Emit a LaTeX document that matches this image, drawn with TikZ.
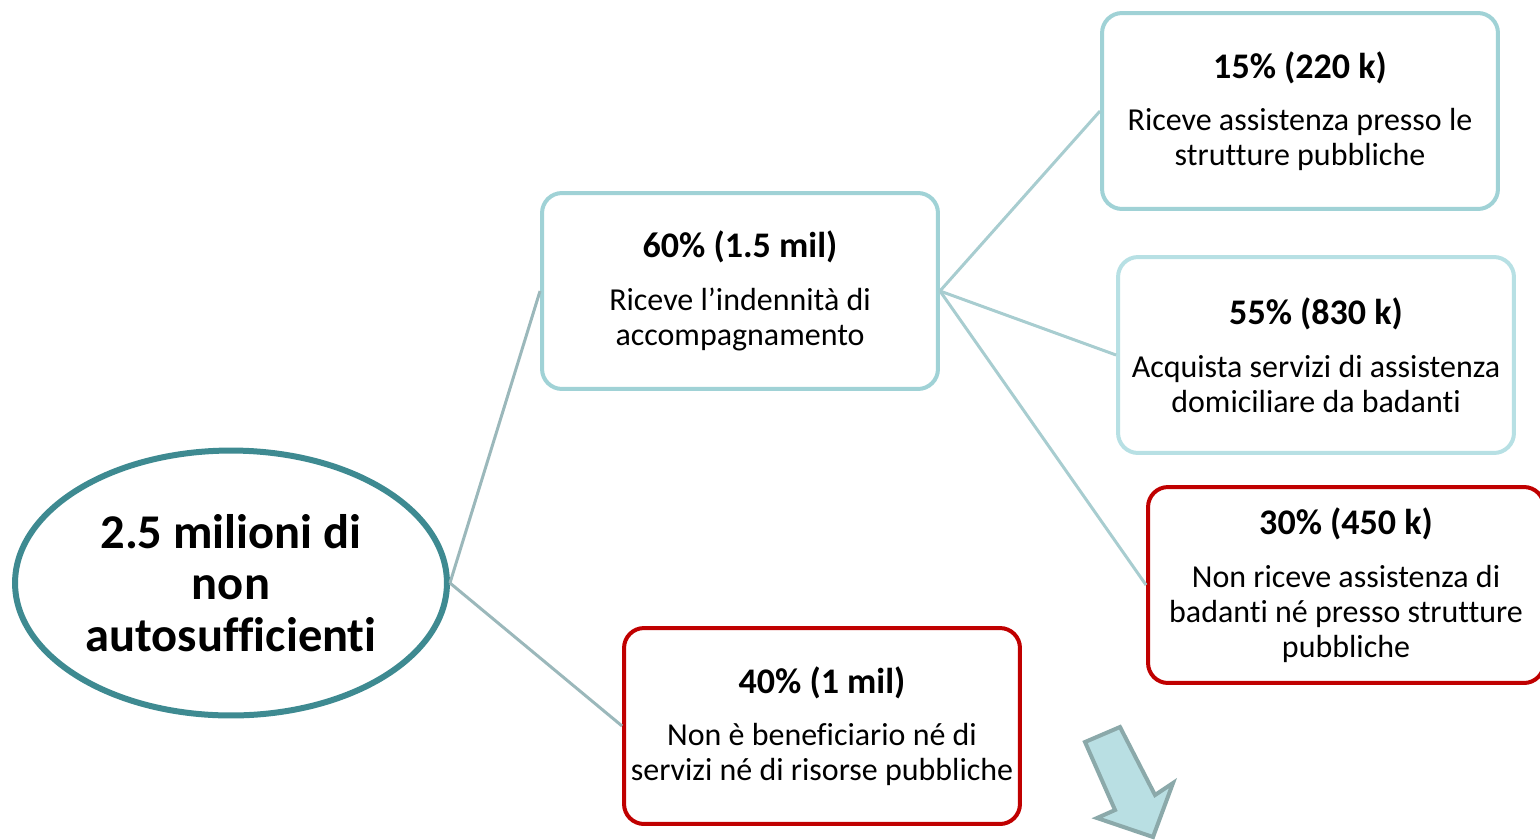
\documentclass[tikz,border=0pt]{standalone}
\usepackage{fontspec}
\setmainfont{Carlito}[Ligatures={NoCommon}]
\definecolor{darkteal}{RGB}{62, 138, 145}
\definecolor{paleteal}{RGB}{160, 210, 214}
\definecolor{paleteallt}{RGB}{183, 224, 228}
\definecolor{linkgray}{RGB}{155, 184, 187}
\definecolor{linkteal}{RGB}{168, 205, 208}
\definecolor{alertred}{RGB}{192, 0, 0}
\definecolor{arrowfill}{RGB}{185, 223, 227}
\definecolor{arrowedge}{RGB}{139, 169, 170}
\usetikzlibrary{shapes.geometric}
\newcommand{\bodyfont}{\fontsize{18.2}{19.9}\selectfont}
\newcommand{\boxhead}[1]{{\bfseries\fontsize{20.5}{20.5}\selectfont #1}\\[10pt]}

\begin{document}
\begin{tikzpicture}[x=0.02cm, y=-0.02cm,
    box/.style={draw=paleteal, line width=0.08cm, fill=white, rounded corners=0.4cm,
                minimum width=7.92cm, minimum height=3.92cm, inner sep=0pt,
                align=center, font=\bodyfont},
    redbox/.style={box, draw=alertred},
    root/.style={ellipse, draw=darkteal, line width=0.12cm, fill=white,
                 minimum width=8.64cm, minimum height=5.3cm, inner sep=0pt,
                 align=center, font=\bfseries\fontsize{27.6}{29.3}\selectfont},
    link/.style={line width=0.06cm, color=linkteal},
  ]
    \useasboundingbox (0,0) rectangle (1540,839);

    %% root and first split
    \node[root] (tot) at (231,583) {2.5 milioni di\\non\\autosufficienti};

    \node[box] (b60) at (740,291)
      {\boxhead{60\% (1.5 mil)}Riceve l’indennità di\\accompagnamento};
    \node[redbox] (b40) at (822,726)
      {\boxhead{40\% (1 mil)}Non è beneficiario né di\\servizi né di risorse pubbliche};

    %% second split
    \node[box] (b15) at (1300,111)
      {\boxhead{15\% (220 k)}Riceve assistenza presso le\\strutture pubbliche};
    \node[box, draw=paleteallt] (b55) at (1316,355)
      {\boxhead{55\% (830 k)}Acquista servizi di assistenza\\domiciliare da badanti};
    \node[redbox] (b30) at (1346,585)
      {\boxhead{30\% (450 k)}Non riceve assistenza di\\badanti né presso strutture\\pubbliche};

    \draw[link, color=linkgray] (tot.east) -- (b60.west);
    \draw[link, color=linkgray] (tot.east) -- (b40.west);
    \draw[link] (b60.east) -- (b15.west);
    \draw[link] (b60.east) -- (b55.west);
    \draw[link] (b60.east) -- (b30.west);

    % block arrow at the bottom
    \draw[line width=0.08cm, draw=arrowedge, fill=arrowfill, line join=miter]
      (1085,742) -- (1120,727) -- (1155,795) -- (1173,783) -- (1153,837)
      -- (1097,818) -- (1115,810) -- cycle;
\end{tikzpicture}
\end{document}
